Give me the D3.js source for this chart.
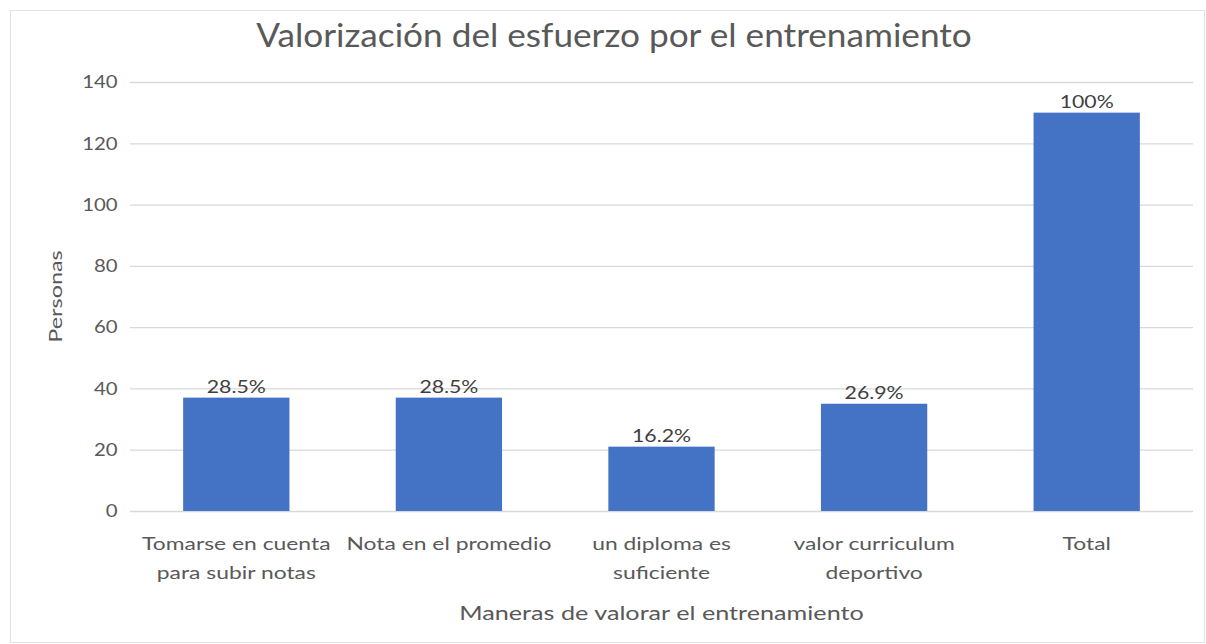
<!DOCTYPE html>
<html>
  <head>
    <meta charset="utf-8">
    <script src="https://d3js.org/d3.v7.min.js"></script>
    <style>
      body { margin: 0; background: #fff; }
      svg { font-family: Lato, "Open Sans", sans-serif; }
    </style>
  </head>
  <body>
    <svg id="chart" width="1206" height="644"></svg>
    <script>
      const categories = [
        ["Tomarse en cuenta", "para subir notas"],
        ["Nota en el promedio"],
        ["un diploma es", "suficiente"],
        ["valor curriculum", "deportivo"],
        ["Total"]
      ]
      const values = [37, 37, 21, 35, 130]
      const labels = ["28.5%", "28.5%", "16.2%", "26.9%", "100%"]
      const yTicks = [0, 20, 40, 60, 80, 100, 120, 140]

      const svg = d3.select('#chart')
      const margin = { left: 130, right: 13, top: 82, bottom: 133 }
      const width = 1206, height = 644

      // the source picture is a bit stretched sideways, so text gets a scaleX
      svg.append('rect')
        .attr('x', 10.5).attr('y', 10.5)
        .attr('width', width - 12).attr('height', height - 12)
        .attr('fill', '#fff').attr('stroke', '#e3e3e3')

      const x = d3.scaleBand()
        .domain(d3.range(categories.length))
        .range([margin.left, width - margin.right])
        .paddingInner(0.5).paddingOuter(0.25)

      const y = d3.scaleLinear()
        .domain([0, 140])
        .range([height - margin.bottom, margin.top])

      const yAxis = d3.axisLeft(y)
        .tickValues(yTicks)
        .tickSize(-(width - margin.right - margin.left))
        .tickPadding(11)

      const gy = svg.append('g')
        .attr('transform', `translate(${margin.left},0)`)
        .call(yAxis)
      gy.select('.domain').remove()
      gy.selectAll('.tick line').attr('stroke', '#d9d9d9').attr('stroke-width', 1.3)
      gy.selectAll('.tick text')
        .attr('fill', '#595959').attr('font-size', 18).attr('font-family', 'Lato, sans-serif')
        .attr('transform', 'scale(1.13,1)')

      svg.append('g').selectAll('rect')
        .data(values)
        .join('rect')
          .attr('x', (d, i) => x(i))
          .attr('y', d => y(d))
          .attr('width', x.bandwidth())
          .attr('height', d => y(0) - y(d))
          .attr('fill', '#4472c4')

      svg.append('g').selectAll('text')
        .data(values)
        .join('text')
          .attr('transform', (d, i) => `translate(${x(i) + x.bandwidth() / 2},${y(d) - 5}) scale(1.25,1)`)
          .attr('text-anchor', 'middle')
          .attr('font-size', 17)
          .attr('fill', '#404040')
          .text((d, i) => labels[i])

      const xl = svg.append('g').selectAll('text')
        .data(categories)
        .join('text')
          .attr('transform', (d, i) => `translate(${x(i) + x.bandwidth() / 2},550) scale(1.27,1)`)
          .attr('text-anchor', 'middle')
          .attr('font-size', 18)
          .attr('fill', '#595959')
      xl.selectAll('tspan')
        .data(d => d)
        .join('tspan')
          .attr('x', 0)
          .attr('dy', (d, i) => i ? 29 : 0)
          .text(d => d)

      svg.append('text')
        .attr('transform', `translate(${(margin.left + width - margin.right) / 2},620) scale(1.26,1)`)
        .attr('text-anchor', 'middle')
        .attr('font-size', 20)
        .attr('fill', '#595959')
        .text('Maneras de valorar el entrenamiento')

      svg.append('text')
        .attr('transform', `translate(62,${(y(0) + y(140)) / 2}) rotate(-90) scale(1.3,1)`)
        .attr('text-anchor', 'middle')
        .attr('font-size', 18)
        .attr('fill', '#595959')
        .text('Personas')

      svg.append('text')
        .attr('transform', 'translate(614,47) scale(1.1,1)')
        .attr('text-anchor', 'middle')
        .attr('font-size', 32)
        .attr('fill', '#595959')
        .text('Valorización del esfuerzo por el entrenamiento')
    </script>
  </body>
</html>
